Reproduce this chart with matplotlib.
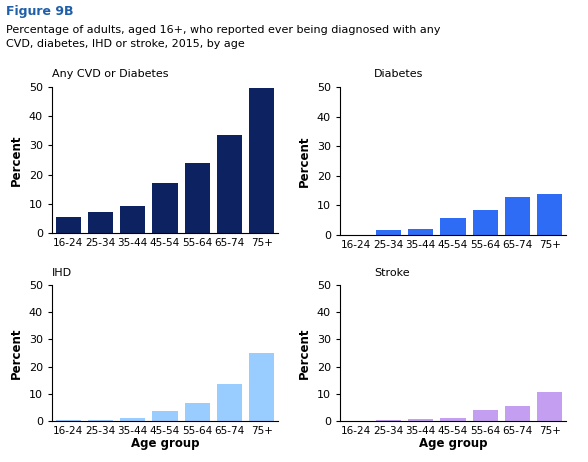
import matplotlib.pyplot as plt

ages = ['16-24', '25-34', '35-44', '45-54', '55-64', '65-74', '75+']
any_cvd = [5.5, 7.3, 9.2, 17.0, 24.0, 33.5, 49.5]
diabetes = [0.0, 1.8, 2.1, 5.8, 8.6, 13.0, 14.0]
ihd = [0.5, 0.3, 1.0, 3.8, 6.5, 13.5, 25.0]
stroke = [0.0, 0.2, 0.8, 1.0, 4.0, 5.5, 10.5]

panels = [
    ('Any CVD or Diabetes', any_cvd, '#0d2260', [52, 87, 226, 146], False, 0.0),
    ('Diabetes', diabetes, '#2f6cf5', [340, 87, 226, 148], False, 0.15),
    ('IHD', ihd, '#99ccff', [52, 285, 226, 136], True, 0.0),
    ('Stroke', stroke, '#c49ef0', [340, 285, 226, 136], True, 0.15),
]

W, H = 588, 462
fig = plt.figure(figsize=(W / 100, H / 100), dpi=100)
fig.text(6 / W, 1 - 12 / H, 'Figure 9B', color='#1f5ea8', fontsize=9, fontweight='bold', va='center')
fig.text(6 / W, 1 - 37 / H, 'Percentage of adults, aged 16+, who reported ever being diagnosed with any\nCVD, diabetes, IHD or stroke, 2015, by age',
         fontsize=8, va='center', linespacing=1.4)

for title, vals, col, (x, y, w, h), bottom, tx in panels:
    ax = fig.add_axes([x / W, 1 - (y + h) / H, w / W, h / H])
    ax.bar(range(len(ages)), vals, width=0.78, color=col)
    ax.set_ylim(0, 50)
    ax.set_xlim(-0.5, 6.5)
    ax.set_yticks(range(0, 51, 10))
    ax.set_xticks(range(len(ages)))
    ax.set_xticklabels(ages, fontsize=7.5)
    ax.tick_params(axis='y', labelsize=8, length=3)
    ax.tick_params(axis='x', length=0)
    for s in ['top', 'right']:
        ax.spines[s].set_visible(False)
    ax.set_ylabel('Percent', fontsize=8.5, fontweight='bold')
    if bottom:
        ax.set_xlabel('Age group', fontsize=8.5, fontweight='bold', labelpad=1)
    ax.text(tx, 1.09, title, transform=ax.transAxes, fontsize=8, va='center')

fig.savefig('out.png', dpi=100)
